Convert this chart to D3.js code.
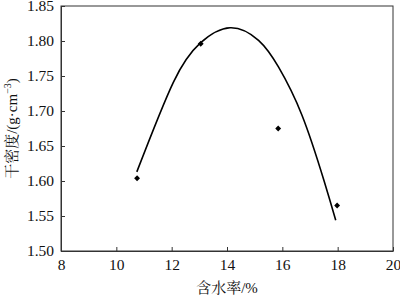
<!DOCTYPE html>
<html>
<head>
<meta charset="utf-8">
<script src="https://cdn.jsdelivr.net/npm/d3@7"></script>
<style>
  body { margin: 0; background: #fff; }
</style>
</head>
<body>
<svg id="chart" width="400" height="297"></svg>
<script>
// measured points (water content %, dry density g/cm3)
const waterContent = [10.75, 13.05, 15.85, 17.98];
const dryDensity   = [1.604, 1.796, 1.675, 1.565];

// fitted curve
const curveX = [10.74, 12.06, 13.03, 14.11, 15.14, 15.86, 16.71, 17.51, 17.93];
const curveY = [1.613, 1.741, 1.797, 1.819, 1.801, 1.763, 1.694, 1.600, 1.544];

const xTicks = [8, 10, 12, 14, 16, 18, 20];
const yTicks = [1.50, 1.55, 1.60, 1.65, 1.70, 1.75, 1.80, 1.85];

const serif = "'Liberation Serif', 'Times New Roman', serif";
const cjk = "'Noto Serif CJK SC', 'Noto Sans CJK SC', serif";

const margin = {left: 61, right: 7, top: 6, bottom: 46};
const width = 400, height = 297;

const svg = d3.select("#chart");

const x = d3.scaleLinear().domain([8, 20]).range([margin.left, width - margin.right]);
const y = d3.scaleLinear().domain([1.50, 1.85]).range([height - margin.bottom, margin.top]);

// frame
svg.append("rect")
    .attr("x", x(8)).attr("y", y(1.85))
    .attr("width", x(20) - x(8)).attr("height", y(1.50) - y(1.85))
    .attr("fill", "none").attr("stroke", "#333").attr("stroke-width", 1);

const xAxis = svg.append("g")
    .attr("transform", "translate(0," + y(1.50) + ")")
    .call(d3.axisBottom(x).tickValues(xTicks).tickSizeInner(-4).tickSizeOuter(0).tickPadding(8));
const yAxis = svg.append("g")
    .attr("transform", "translate(" + x(8) + ",0)")
    .call(d3.axisLeft(y).tickValues(yTicks).tickFormat(d3.format(".2f")).tickSizeInner(-4).tickSizeOuter(0).tickPadding(7));

[xAxis, yAxis].forEach(function(a) {
    a.select(".domain").attr("stroke", "#333");
    a.selectAll(".tick line").attr("stroke", "#333");
    a.selectAll(".tick text")
        .style("font-family", serif)
        .style("font-size", "15.5px")
        .attr("fill", "#111");
});

// curve
const line = d3.line()
    .x((d, i) => x(curveX[i]))
    .y(d => y(d))
    .curve(d3.curveNatural);

svg.append("path")
    .datum(curveY)
    .attr("d", line)
    .attr("fill", "none")
    .attr("stroke", "#000")
    .attr("stroke-width", 1.6);

// diamond markers
const diamond = d3.symbol().type(d3.symbolDiamond2).size(22);
svg.append("g").selectAll("path")
    .data(dryDensity)
    .join("path")
    .attr("d", diamond)
    .attr("transform", (d, i) => "translate(" + x(waterContent[i]) + "," + y(d) + ")")
    .attr("fill", "#000");

// axis titles
const xt = svg.append("text")
    .attr("x", (x(8) + x(20)) / 2)
    .attr("y", 293)
    .attr("text-anchor", "middle")
    .attr("fill", "#111")
    .style("font-family", serif)
    .style("font-size", "15px");
xt.append("tspan").style("font-family", cjk).text("含水率");
xt.append("tspan").text("/%");

const yt = svg.append("text")
    .attr("transform", "translate(17," + (y(1.50) + y(1.85)) / 2 + ") rotate(-90)")
    .attr("text-anchor", "middle")
    .attr("fill", "#111")
    .style("font-family", serif)
    .style("font-size", "15px");
yt.append("tspan").style("font-family", cjk).text("干密度");
yt.append("tspan").text("/(g·cm");
yt.append("tspan").style("font-size", "10px").attr("dy", -6).text("−3");
yt.append("tspan").attr("dy", 6).text(")");
</script>
</body>
</html>
